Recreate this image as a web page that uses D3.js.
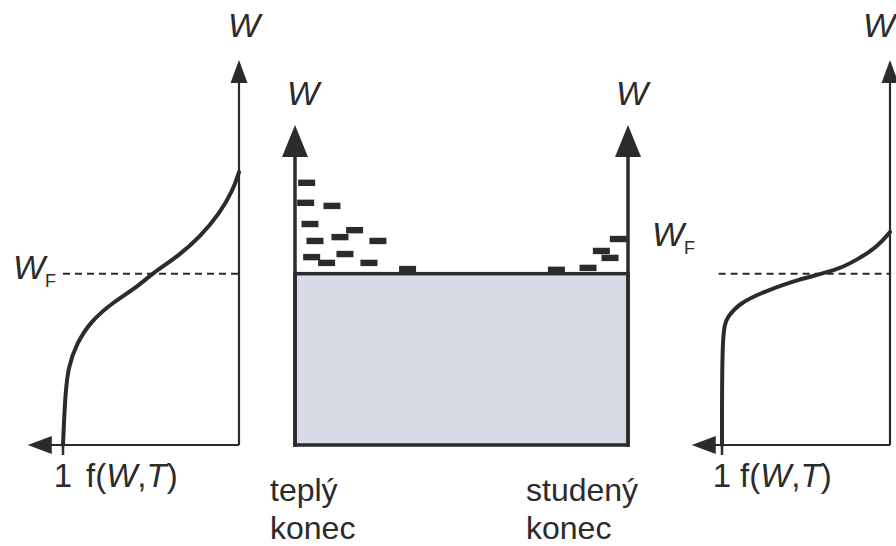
<!DOCTYPE html>
<html>
<head>
<meta charset="utf-8">
<script src="https://cdnjs.cloudflare.com/ajax/libs/d3/7.8.5/d3.min.js"></script>
<style>
  html, body { margin: 0; padding: 0; background: #fff; }
  svg { display: block; font-family: 'Liberation Sans', Arial, sans-serif; }
</style>
</head>
<body>
<svg id="chart" width="896" height="546"></svg>
<script>
// occupation f(W,T) against energy W (W in arbitrary units)
var warmW = [0, 1.17, 2.03, 2.65, 3.19, 3.71, 4.10, 4.47, 4.88, 5.40, 6.03, 6.62, 7.09];
var warmF = [1, 0.989, 0.972, 0.920, 0.847, 0.716, 0.580, 0.489, 0.352, 0.222, 0.108, 0.034, 0];
var coldW = [0, 2.99, 3.32, 3.69, 3.97, 4.23, 4.42, 4.55, 4.81, 5.14, 5.53];
var coldF = [1, 1, 0.970, 0.893, 0.756, 0.595, 0.435, 0.315, 0.196, 0.077, 0];
var fermiW = 4.45;

// electrons above W_F: position along the conductor (0 warm end .. 10 cold end) and energy
var levelPos = [0.35, 0.32, 1.11, 0.45, 0.60, 1.35, 1.79, 2.49, 0.50, 0.95, 1.50, 2.22, 3.38,
                7.85, 8.80, 9.20, 9.46, 9.71];
var levelW = [6.81, 6.29, 6.21, 5.74, 5.30, 5.40, 5.58, 5.30, 4.88, 4.73, 4.96, 4.73, 4.57,
              4.55, 4.60, 5.04, 4.86, 5.35];

var endLabels = [['teplý', 'konec'], ['studený', 'konec']];

(function() {

    var ink = '#2b2b2b';
    var svg = d3.select('#chart');

    var yW = d3.scaleLinear().domain([0, 10]).range([445, 60]);
    var fWarm = d3.scaleLinear().domain([0, 1]).range([239, 63]);
    var fCold = d3.scaleLinear().domain([0, 1]).range([890, 722]);
    var xPos = d3.scaleLinear().domain([0, 10]).range([295, 628]);

    // line with a filled arrow head at (x2, y2)
    function arrow(x1, y1, x2, y2, len, half, width) {
        var dx = x2 - x1, dy = y2 - y1;
        var d = Math.sqrt(dx * dx + dy * dy);
        var ux = dx / d, uy = dy / d;
        var bx = x2 - ux * len, by = y2 - uy * len;
        svg.append('line')
            .attr('x1', x1).attr('y1', y1)
            .attr('x2', bx + ux * 2).attr('y2', by + uy * 2)
            .attr('stroke', ink)
            .attr('stroke-width', width);
        svg.append('path')
            .attr('d', 'M' + x2 + ',' + y2 +
                       'L' + (bx - uy * half) + ',' + (by + ux * half) +
                       'L' + (bx + uy * half) + ',' + (by - ux * half) + 'Z')
            .attr('fill', ink);
    }

    function italicW(x, y, anchor) {
        return svg.append('text')
            .attr('x', x).attr('y', y)
            .attr('text-anchor', anchor || 'middle')
            .attr('font-size', 34)
            .attr('font-style', 'italic')
            .attr('fill', ink)
            .text('W');
    }

    function fermiLabel(x, y) {
        var t = svg.append('text')
            .attr('x', x).attr('y', y)
            .attr('fill', ink)
            .attr('font-size', 34);
        t.append('tspan').attr('font-style', 'italic').text('W');
        t.append('tspan').attr('font-size', 18).attr('dy', 8).text('F');
    }

    function fLabel(x1, xf, y) {
        svg.append('text')
            .attr('x', x1).attr('y', y)
            .attr('text-anchor', 'middle')
            .attr('font-size', 33)
            .attr('fill', ink)
            .text('1');
        var t = svg.append('text')
            .attr('x', xf).attr('y', y)
            .attr('font-size', 33)
            .attr('fill', ink);
        t.append('tspan').text('f(');
        t.append('tspan').attr('font-style', 'italic').text('W');
        t.append('tspan').text(',');
        t.append('tspan').attr('font-style', 'italic').text('T');
        t.append('tspan').text(')');
    }

    function sidePanel(fx, ws, fs, fTip, lab) {
        var line = d3.line()
            .x(function(d) { return fx(d.f); })
            .y(function(d) { return yW(d.w); })
            .curve(d3.curveBasis);
        var pts = ws.map(function(w, i) { return { w: w, f: fs[i] }; });

        // W_F dashed
        svg.append('line')
            .attr('x1', fx(lab.dashFrom)).attr('x2', fx(0))
            .attr('y1', yW(fermiW)).attr('y2', yW(fermiW))
            .attr('stroke', ink)
            .attr('stroke-width', 2)
            .attr('stroke-dasharray', '7,5');

        arrow(fx(0), yW(0), fx(0), yW(10), 23, 8.5, 2.2);
        arrow(fx(0), yW(0), fx(fTip), yW(0), 24, 9, 2.2);

        // tick at f = 1
        svg.append('line')
            .attr('x1', fx(1)).attr('x2', fx(1))
            .attr('y1', yW(0)).attr('y2', yW(0) + 10)
            .attr('stroke', ink)
            .attr('stroke-width', 2.5);

        svg.append('path')
            .datum(pts)
            .attr('d', line)
            .attr('fill', 'none')
            .attr('stroke', ink)
            .attr('stroke-width', 4)
            .attr('stroke-linecap', 'round');

        italicW(fx(0) + lab.wdx, 37, lab.anchor);
        fLabel(fx(1), lab.fx, 487);
    }

    sidePanel(fWarm, warmW, warmF, 1.2, { dashFrom: 1.0, wdx: 5, fx: 86 });
    sidePanel(fCold, coldW, coldF, 1.18, { dashFrom: 1.02, wdx: 5, fx: 740, anchor: 'end' });

    fermiLabel(13, 279);
    fermiLabel(652, 246);

    // middle: conductor with filled band
    var x0 = xPos(0), x1 = xPos(10), yTop = yW(fermiW), yBot = yW(0);
    svg.append('rect')
        .attr('x', x0).attr('y', yTop)
        .attr('width', x1 - x0).attr('height', yBot - yTop)
        .attr('fill', '#d7dbe4')
        .attr('stroke', ink)
        .attr('stroke-width', 3.5);

    arrow(x0, yBot + 1.7, x0, yW(8.31), 32, 13, 3.5);
    arrow(x1, yBot + 1.7, x1, yW(8.31), 32, 13, 3.5);

    svg.selectAll('.level')
        .data(levelPos)
        .enter()
        .append('rect')
        .attr('class', 'level')
        .attr('x', function(d) { return xPos(d) - 8.5; })
        .attr('y', function(d, i) { return yW(levelW[i]) - 3.2; })
        .attr('width', 17)
        .attr('height', 6.4)
        .attr('fill', ink);

    italicW(x0 + 8, 105);
    italicW(x1 + 4, 105);

    endLabels.forEach(function(lines, k) {
        var x = k === 0 ? 270 : 526;
        var t = svg.append('text')
            .attr('x', x)
            .attr('y', 501)
            .attr('font-size', 32)
            .attr('fill', ink);
        lines.forEach(function(s, j) {
            t.append('tspan')
                .attr('x', x)
                .attr('dy', j === 0 ? 0 : 38)
                .text(s);
        });
    });

})();
</script>
</body>
</html>
